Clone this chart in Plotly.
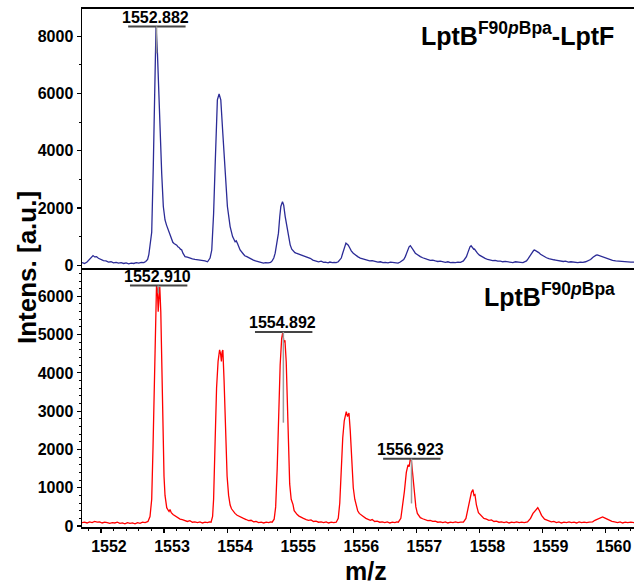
import plotly.graph_objects as go

# ---------------- data ----------------
top_spectrum = [
    (1551.70, 90), (1551.74, 60), (1551.78, 110), (1551.82, 220), (1551.85, 300), (1551.875, 335),
    (1551.90, 290), (1551.93, 300), (1551.96, 240), (1552.00, 200), (1552.04, 160), (1552.08, 150),
    (1552.12, 110), (1552.16, 120), (1552.20, 80), (1552.24, 100), (1552.28, 70), (1552.32, 90),
    (1552.36, 60), (1552.40, 80), (1552.44, 50), (1552.48, 70), (1552.52, 60), (1552.56, 90),
    (1552.60, 70), (1552.64, 100), (1552.68, 90), (1552.71, 130), (1552.74, 200), (1552.76, 380),
    (1552.78, 700), (1552.805, 1150), (1552.83, 3450), (1552.857, 6940), (1552.873, 8340),
    (1552.894, 7525), (1552.91, 6360), (1552.937, 4620), (1552.963, 3220), (1552.989, 2050),
    (1553.016, 1580), (1553.04, 1400), (1553.068, 1230), (1553.095, 1000), (1553.122, 880),
    (1553.14, 800), (1553.159, 760), (1553.18, 740), (1553.202, 700), (1553.22, 640), (1553.238, 620),
    (1553.26, 560), (1553.281, 530), (1553.30, 420), (1553.333, 300), (1553.37, 280), (1553.41, 240),
    (1553.45, 220), (1553.49, 200), (1553.53, 190), (1553.57, 180), (1553.61, 160), (1553.65, 150),
    (1553.69, 120), (1553.73, 250), (1553.757, 530), (1553.786, 1800), (1553.81, 3450),
    (1553.846, 5780), (1553.873, 5980), (1553.90, 5780), (1553.932, 4610), (1553.968, 3210),
    (1554.005, 2050), (1554.048, 1350), (1554.087, 1000), (1554.127, 820), (1554.145, 850),
    (1554.165, 760), (1554.206, 530), (1554.254, 400), (1554.28, 330), (1554.313, 300), (1554.35, 250),
    (1554.38, 200), (1554.417, 180), (1554.45, 150), (1554.492, 120), (1554.53, 90), (1554.576, 70),
    (1554.61, 90), (1554.651, 80), (1554.69, 100), (1554.714, 150), (1554.74, 250), (1554.762, 420),
    (1554.79, 800), (1554.814, 1120), (1554.835, 1700), (1554.852, 2050), (1554.878, 2220),
    (1554.897, 2100), (1554.921, 1700), (1554.937, 1500), (1554.957, 1120), (1554.98, 880),
    (1555.0, 710), (1555.025, 560), (1555.052, 470), (1555.075, 440), (1555.095, 420), (1555.12, 400),
    (1555.159, 360), (1555.20, 320), (1555.238, 300), (1555.28, 260), (1555.317, 240), (1555.36, 180),
    (1555.40, 150), (1555.449, 120), (1555.49, 140), (1555.53, 100), (1555.556, 110), (1555.60, 80),
    (1555.63, 110), (1555.667, 90), (1555.70, 100), (1555.73, 90), (1555.762, 120), (1555.79, 180),
    (1555.81, 250), (1555.83, 400), (1555.849, 550), (1555.865, 700), (1555.884, 770), (1555.90, 740),
    (1555.921, 700), (1555.945, 600), (1555.968, 500), (1556.0, 420), (1556.032, 350), (1556.07, 300),
    (1556.111, 250), (1556.15, 230), (1556.19, 190), (1556.222, 180), (1556.26, 150), (1556.30, 160),
    (1556.349, 130), (1556.39, 110), (1556.43, 120), (1556.47, 90), (1556.508, 100), (1556.55, 80),
    (1556.59, 110), (1556.63, 90), (1556.667, 90), (1556.71, 70), (1556.745, 110), (1556.778, 150),
    (1556.80, 200), (1556.825, 300), (1556.845, 420), (1556.865, 550), (1556.885, 640), (1556.905, 680),
    (1556.92, 640), (1556.937, 600), (1556.96, 500), (1556.984, 420), (1557.02, 360), (1557.063, 300),
    (1557.10, 260), (1557.14, 220), (1557.175, 200), (1557.22, 170), (1557.26, 180), (1557.302, 150),
    (1557.34, 130), (1557.38, 140), (1557.42, 110), (1557.46, 100), (1557.50, 120), (1557.54, 90),
    (1557.58, 100), (1557.619, 90), (1557.66, 110), (1557.70, 100), (1557.746, 150), (1557.77, 220),
    (1557.794, 300), (1557.815, 430), (1557.833, 550), (1557.85, 640), (1557.868, 680), (1557.885, 620),
    (1557.897, 580), (1557.91, 560), (1557.921, 565), (1557.945, 480), (1557.968, 420), (1558.0, 350),
    (1558.048, 280), (1558.09, 240), (1558.13, 200), (1558.175, 180), (1558.21, 160), (1558.25, 170),
    (1558.29, 140), (1558.333, 140), (1558.37, 120), (1558.41, 130), (1558.45, 110), (1558.492, 110),
    (1558.53, 90), (1558.57, 120), (1558.61, 100), (1558.651, 100), (1558.69, 90), (1558.72, 120),
    (1558.746, 150), (1558.77, 220), (1558.794, 300), (1558.82, 400), (1558.841, 480), (1558.86, 520),
    (1558.873, 530), (1558.89, 510), (1558.913, 500), (1558.94, 440), (1558.968, 380), (1559.01, 320),
    (1559.063, 260), (1559.10, 230), (1559.14, 200), (1559.18, 190), (1559.206, 180), (1559.25, 160),
    (1559.29, 150), (1559.33, 130), (1559.365, 140), (1559.41, 110), (1559.45, 120), (1559.49, 100),
    (1559.524, 110), (1559.56, 90), (1559.60, 110), (1559.64, 100), (1559.683, 120), (1559.72, 150),
    (1559.762, 200), (1559.80, 280), (1559.825, 330), (1559.85, 350), (1559.868, 360), (1559.885, 345),
    (1559.905, 340), (1559.93, 320), (1559.952, 300), (1559.99, 260), (1560.032, 220), (1560.07, 190),
    (1560.11, 170), (1560.159, 150), (1560.20, 140), (1560.24, 130), (1560.28, 120), (1560.317, 120),
    (1560.36, 100), (1560.40, 110), (1560.46, 110),
]

bottom_spectrum = [
    (1551.70, 90), (1551.74, 100), (1551.78, 80), (1551.82, 110), (1551.86, 90), (1551.90, 120),
    (1551.94, 100), (1551.98, 110), (1552.02, 80), (1552.06, 100), (1552.10, 90), (1552.14, 70),
    (1552.18, 90), (1552.22, 80), (1552.26, 100), (1552.30, 70), (1552.34, 80), (1552.38, 60),
    (1552.42, 90), (1552.46, 70), (1552.50, 80), (1552.54, 60), (1552.58, 90), (1552.62, 70),
    (1552.66, 100), (1552.70, 90), (1552.73, 110), (1552.746, 120), (1552.778, 250), (1552.805, 700),
    (1552.825, 2000), (1552.846, 3800), (1552.865, 5300), (1552.881, 6280), (1552.894, 6200),
    (1552.908, 5600), (1552.921, 6000), (1552.933, 6250), (1552.949, 5600), (1552.963, 4200),
    (1552.976, 2500), (1552.987, 1600), (1553.0, 1300), (1553.016, 800), (1553.043, 480),
    (1553.063, 420), (1553.08, 380), (1553.095, 430), (1553.115, 350), (1553.143, 300), (1553.165, 280),
    (1553.19, 250), (1553.22, 220), (1553.254, 180), (1553.29, 170), (1553.333, 150), (1553.37, 120),
    (1553.41, 140), (1553.45, 100), (1553.49, 110), (1553.53, 90), (1553.57, 110), (1553.61, 80),
    (1553.65, 100), (1553.69, 90), (1553.72, 110), (1553.746, 100), (1553.770, 250), (1553.786, 700),
    (1553.81, 2200), (1553.833, 3600), (1553.857, 4300), (1553.881, 4600), (1553.897, 4500),
    (1553.91, 4300), (1553.921, 4550), (1553.933, 4600), (1553.952, 3800), (1553.976, 2400),
    (1554.0, 1300), (1554.024, 800), (1554.048, 550), (1554.07, 450), (1554.095, 380), (1554.125, 330),
    (1554.159, 280), (1554.19, 250), (1554.222, 220), (1554.26, 200), (1554.302, 170), (1554.34, 140),
    (1554.38, 150), (1554.42, 110), (1554.46, 120), (1554.50, 90), (1554.54, 100), (1554.58, 80),
    (1554.62, 100), (1554.66, 90), (1554.69, 110), (1554.714, 100), (1554.746, 180), (1554.770, 500),
    (1554.794, 1500), (1554.817, 3000), (1554.841, 4200), (1554.865, 4900), (1554.884, 5070),
    (1554.90, 4800), (1554.917, 4850), (1554.937, 4300), (1554.957, 3000), (1554.976, 1800),
    (1554.992, 1100), (1555.016, 700), (1555.032, 620), (1555.045, 560), (1555.063, 400),
    (1555.085, 340), (1555.111, 300), (1555.14, 260), (1555.175, 220), (1555.21, 200), (1555.254, 170),
    (1555.29, 150), (1555.33, 160), (1555.37, 120), (1555.41, 130), (1555.45, 100), (1555.49, 110),
    (1555.53, 90), (1555.57, 110), (1555.61, 80), (1555.65, 100), (1555.69, 90), (1555.73, 100),
    (1555.762, 200), (1555.786, 600), (1555.81, 1500), (1555.833, 2300), (1555.857, 2750),
    (1555.889, 2990), (1555.909, 2860), (1555.932, 2950), (1555.952, 2500), (1555.976, 1700),
    (1556.0, 1000), (1556.024, 700), (1556.048, 500), (1556.07, 400), (1556.095, 330), (1556.125, 280),
    (1556.159, 250), (1556.20, 200), (1556.238, 180), (1556.27, 150), (1556.30, 170), (1556.34, 120),
    (1556.38, 130), (1556.42, 100), (1556.46, 110), (1556.50, 90), (1556.54, 110), (1556.58, 80),
    (1556.62, 100), (1556.66, 90), (1556.69, 110), (1556.714, 100), (1556.754, 200), (1556.778, 450),
    (1556.81, 900), (1556.841, 1400), (1556.868, 1600), (1556.886, 1550), (1556.905, 1760),
    (1556.921, 1720), (1556.944, 1300), (1556.968, 800), (1556.992, 500), (1557.016, 330),
    (1557.04, 260), (1557.063, 220), (1557.10, 190), (1557.143, 160), (1557.18, 140), (1557.22, 150),
    (1557.26, 120), (1557.30, 130), (1557.34, 100), (1557.38, 110), (1557.42, 90), (1557.46, 110),
    (1557.50, 80), (1557.54, 100), (1557.58, 90), (1557.62, 110), (1557.66, 90), (1557.70, 100),
    (1557.746, 100), (1557.786, 200), (1557.817, 450), (1557.849, 700), (1557.873, 880),
    (1557.897, 950), (1557.913, 800), (1557.929, 820), (1557.952, 550), (1557.984, 350),
    (1558.032, 250), (1558.07, 200), (1558.111, 180), (1558.15, 150), (1558.19, 160), (1558.23, 120),
    (1558.27, 130), (1558.31, 100), (1558.35, 110), (1558.39, 90), (1558.43, 110), (1558.47, 80),
    (1558.51, 100), (1558.55, 90), (1558.59, 110), (1558.63, 90), (1558.67, 100), (1558.71, 90),
    (1558.762, 110), (1558.81, 200), (1558.849, 330), (1558.889, 420), (1558.925, 478),
    (1558.952, 400), (1558.984, 280), (1559.032, 180), (1559.095, 130), (1559.14, 110), (1559.18, 120),
    (1559.22, 90), (1559.26, 110), (1559.30, 80), (1559.34, 100), (1559.38, 90), (1559.42, 110),
    (1559.46, 90), (1559.50, 100), (1559.54, 80), (1559.58, 110), (1559.62, 90), (1559.66, 100),
    (1559.70, 90), (1559.74, 100), (1559.794, 110), (1559.83, 150), (1559.873, 180), (1559.91, 220),
    (1559.952, 240), (1560.0, 200), (1560.063, 140), (1560.10, 120), (1560.143, 110), (1560.19, 90),
    (1560.23, 110), (1560.27, 80), (1560.31, 100), (1560.35, 90), (1560.40, 100), (1560.46, 90),
]

top_mz = [p[0] for p in top_spectrum]
top_int = [p[1] for p in top_spectrum]
bot_mz = [p[0] for p in bottom_spectrum]
bot_int = [p[1] for p in bottom_spectrum]

top_peak_mz = [1552.882]
top_peak_apex = [8340]
top_peak_stem_end = [7400]

bot_peak_mz = [1552.910, 1554.892, 1556.923]
bot_peak_apex = [6280, 5070, 1760]
bot_peak_stem_end = [6080, 2700, 590]

top_title = "LptB<sup>F90<i>p</i>Bpa</sup>-LptF"
bot_title = "LptB<sup>F90<i>p</i>Bpa</sup>"

x_ticks = [1552, 1553, 1554, 1555, 1556, 1557, 1558, 1559, 1560]
top_y_ticks = [0, 2000, 4000, 6000, 8000]
bot_y_ticks = [0, 1000, 2000, 3000, 4000, 5000, 6000]

# ---------------- figure ----------------
FONT = "Liberation Sans, Arial, sans-serif"
tickfont = dict(family=FONT, size=16, color="black", weight="bold")

fig = go.Figure()
fig.add_trace(go.Scatter(x=top_mz, y=top_int, mode="lines", xaxis="x2", yaxis="y2",
                         line=dict(color="#2b2b96", width=1.3), hoverinfo="skip"))
fig.add_trace(go.Scatter(x=bot_mz, y=bot_int, mode="lines", xaxis="x", yaxis="y",
                         line=dict(color="#ff0000", width=1.3), hoverinfo="skip"))

shapes = []
annotations = []

def add_peak_labels(mzs, apexes, stems, xref, yref):
    for mz, apex, stem in zip(mzs, apexes, stems):
        shapes.append(dict(type="line", xref=xref, yref=yref, x0=mz - 0.45, x1=mz + 0.46,
                           y0=apex, y1=apex, line=dict(color="#444444", width=2)))
        shapes.append(dict(type="line", xref=xref, yref=yref, x0=mz, x1=mz,
                           y0=stem, y1=apex, line=dict(color="#9a9a9a", width=1.5)))
        annotations.append(dict(x=mz - 0.01, y=apex, xref=xref, yref=yref, text=f"{mz:.3f}",
                                showarrow=False, xanchor="center", yanchor="middle", yshift=9,
                                font=dict(family=FONT, size=16, color="black", weight="bold")))

add_peak_labels(top_peak_mz, top_peak_apex, top_peak_stem_end, "x2", "y2")
add_peak_labels(bot_peak_mz, bot_peak_apex, bot_peak_stem_end, "x", "y")

annotations.append(dict(x=0.967, y=0.952, xref="paper", yref="paper", text=f"<b>{top_title}</b>",
                        showarrow=False, xanchor="right", yanchor="middle",
                        font=dict(family=FONT, size=25, color="black")))
annotations.append(dict(x=0.969, y=0.447, xref="paper", yref="paper", text=f"<b>{bot_title}</b>",
                        showarrow=False, xanchor="right", yanchor="middle",
                        font=dict(family=FONT, size=25, color="black")))
annotations.append(dict(x=-0.0996, y=0.5, xref="paper", yref="paper", text="<b>Intens. [a.u.]</b>",
                        showarrow=False, textangle=-90, xanchor="center", yanchor="middle",
                        font=dict(family=FONT, size=26, color="black")))
annotations.append(dict(x=0.5145, y=-0.084, xref="paper", yref="paper", text="<b>m/z</b>",
                        showarrow=False, xanchor="center", yanchor="middle",
                        font=dict(family=FONT, size=25, color="black")))

xrange = [1551.70, 1560.45]

fig.update_layout(
    width=634, height=587,
    margin=dict(l=82, r=0, t=9, b=60),
    paper_bgcolor="white", plot_bgcolor="white",
    showlegend=False,
    shapes=shapes, annotations=annotations,
    xaxis=dict(domain=[0, 1], anchor="y", range=xrange, tickvals=x_ticks,
               ticks="outside", ticklen=4, tickwidth=1.2, tickcolor="black",
               minor=dict(dtick=0.2, tick0=1552, ticks="outside", ticklen=2, tickwidth=1, tickcolor="black"),
               showline=True, linecolor="black", linewidth=1.5, showgrid=False, zeroline=False,
               tickfont=tickfont, ticklabelshift=8, automargin=False),
    yaxis=dict(domain=[0, 0.5], anchor="x", range=[-25, 6740], tickvals=bot_y_ticks,
               ticks="outside", ticklen=4, tickwidth=1.2, tickcolor="black",
               minor=dict(dtick=200, ticks="outside", ticklen=2, tickwidth=1, tickcolor="black"),
               showline=True, linecolor="black", linewidth=1.5, showgrid=False, zeroline=False,
               tickfont=tickfont, automargin=False),
    xaxis2=dict(domain=[0, 1], anchor="y2", range=xrange, matches="x", showticklabels=False,
                ticks="", showline=True, mirror=True, linecolor="black", linewidth=2,
                showgrid=False, zeroline=False, automargin=False),
    yaxis2=dict(domain=[0.5, 1], anchor="x2", range=[-98, 8950], tickvals=top_y_ticks,
                ticks="outside", ticklen=4, tickwidth=1.2, tickcolor="black",
                minor=dict(dtick=1000, ticks="outside", ticklen=2, tickwidth=1, tickcolor="black"),
                showline=True, linecolor="black", linewidth=1.5, showgrid=False, zeroline=False,
                tickfont=tickfont, automargin=False),
)

fig.write_html("out.html", config={"displayModeBar": False, "staticPlot": True},
               post_script="document.body.style.margin='0px';document.body.style.overflow='hidden';")
